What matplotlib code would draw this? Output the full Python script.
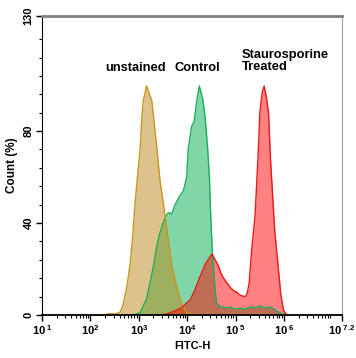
import numpy as np
import matplotlib.pyplot as plt
from matplotlib.ticker import FixedLocator, LogLocator, NullFormatter

plt.rcParams['font.family'] = ['Liberation Sans', 'DejaVu Sans']
plt.rcParams['font.weight'] = 'bold'
plt.rcParams['mathtext.fontset'] = 'custom'
plt.rcParams['mathtext.rm'] = 'Liberation Sans:bold'
plt.rcParams['mathtext.it'] = 'Liberation Sans:bold'
plt.rcParams['mathtext.bf'] = 'Liberation Sans:bold'

# log10(FITC-H) positions and count (%) for each histogram
unstained_log = [2.0, 2.3, 2.4, 2.51, 2.61, 2.67, 2.75, 2.82, 2.88, 2.92, 2.98, 3.03,
                 3.06, 3.09, 3.16, 3.27, 3.37, 3.44, 3.51, 3.58, 3.68, 3.78, 3.89,
                 3.99, 4.16, 4.4]
unstained_cnt = [0, 0.2, 0.6, 0.5, 1.2, 4, 12, 22, 36, 48, 62, 73,
                 85, 93, 99.6, 93, 73, 58, 48, 37, 22, 12.5, 4.5,
                 1, 0.3, 0]

control_log = [2.8, 2.92, 3.03, 3.09, 3.16, 3.23, 3.30, 3.37, 3.44, 3.50, 3.56, 3.61,
               3.68, 3.75, 3.85, 3.92, 3.99, 4.02, 4.09, 4.14, 4.20, 4.25, 4.32,
               4.37, 4.42, 4.46, 4.48, 4.52, 4.58, 4.61, 4.68, 4.8, 4.9, 5.0, 5.1,
               5.2, 5.3, 5.4, 5.5, 5.6, 5.7, 5.8, 5.9, 6.0, 6.1]
control_cnt = [0, 0.3, 1, 4, 7, 14, 21, 30, 36, 40, 43, 44.5,
               44, 48, 52, 54, 60, 72, 82, 84, 93.5, 99.6, 94,
               86, 73, 59, 46, 27, 10, 5, 3.6, 3, 3.5, 2.5, 3,
               2.5, 3.5, 3, 4, 3, 3.5, 2.5, 1, 0.3, 0]

treated_log = [3.4, 3.54, 3.65, 3.77, 3.87, 3.95, 4.06, 4.16, 4.27, 4.37, 4.46, 4.51,
               4.58, 4.65, 4.71, 4.80, 4.91, 4.97, 5.02, 5.06, 5.09, 5.14, 5.20, 5.24,
               5.28, 5.33, 5.40, 5.43, 5.47, 5.50, 5.55, 5.59, 5.64, 5.68, 5.72,
               5.77, 5.81, 5.88, 5.93, 5.99, 6.06]
treated_cnt = [0, 0.3, 1, 2, 3, 4.5, 6.5, 11, 17, 22, 25, 26.5,
               24, 21, 17.5, 14.5, 11.5, 10.5, 10, 9.2, 8.7, 8.3, 8, 9.5,
               14, 28, 43, 55, 72, 88, 97, 99.6, 94, 88, 68,
               50, 36, 21, 9.5, 2, 0]

x_ticks = [1, 2, 3, 4, 5, 6, 7.2]
x_tick_labels = ['$10^{\\ 1}$', '$10^{2}$', '$10^{3}$', '$10^{4}$', '$10^{\\ 5}$',
                 '$10^{\\ 6}$', '$10^{\\ 7.2}$']
y_major = [0, 40, 80, 130]
y_minor = list(range(0, 128, 8))

fig = plt.figure(figsize=(3.56, 3.58), dpi=100)
ax = fig.add_axes([0.118, 0.120, 0.843, 0.835])

# green first, tan on top of it, red last
for xs, ys, fc, ec in [
        (control_log, control_cnt, '#05af55', '#1aae5a'),
        (unstained_log, unstained_cnt, '#bd8919', '#c8961e'),
        (treated_log, treated_cnt, '#ff0505', '#e81818')]:
    xv = 10 ** np.array(xs)
    ax.fill_between(xv, ys, 0, color=fc, alpha=0.5, lw=0)
    ax.plot(xv, ys, color=ec, lw=1)

ax.set_xscale('log')
ax.set_xlim(10 ** 1, 10 ** 7.2)
ax.set_ylim(0, 130)

ax.xaxis.set_major_locator(FixedLocator([10 ** v for v in x_ticks]))
ax.set_xticklabels(x_tick_labels, fontsize=8)
ax.xaxis.set_minor_locator(LogLocator(base=10, subs=np.arange(2, 10), numticks=20))
ax.xaxis.set_minor_formatter(NullFormatter())

ax.set_yticks(y_major)
ax.set_yticklabels([str(v) for v in y_major], rotation=90, va='center', fontsize=8)
ax.yaxis.set_minor_locator(FixedLocator(y_minor))

ax.tick_params(which='major', length=4, width=1, direction='out', pad=2)
ax.tick_params(which='minor', length=2.5, width=0.8, direction='out')

ax.spines['left'].set_color('black')
ax.spines['bottom'].set_color('black')
ax.spines['bottom'].set_linewidth(1.3)
ax.spines['top'].set_color('#808080')
ax.spines['top'].set_linewidth(2)
ax.spines['right'].set_color('#a0a0a0')
ax.spines['right'].set_linewidth(0.8)

ax.set_xlabel('FITC-H', fontsize=8, fontweight='bold', labelpad=3)
ax.set_ylabel('Count (%)', fontsize=8.5, fontweight='bold', labelpad=4)

ax.text(10 ** 2.93, 107.5, 'unstained', ha='center', va='center', fontsize=9.3, fontweight='bold')
ax.text(10 ** 4.2, 107.5, 'Control', ha='center', va='center', fontsize=9.3, fontweight='bold')
ax.text(10 ** 5.13, 110.5, 'Staurosporine\nTreated', ha='left', va='center',
        fontsize=9.3, fontweight='bold', linespacing=1.0)

fig.savefig('out.png', dpi=100)
